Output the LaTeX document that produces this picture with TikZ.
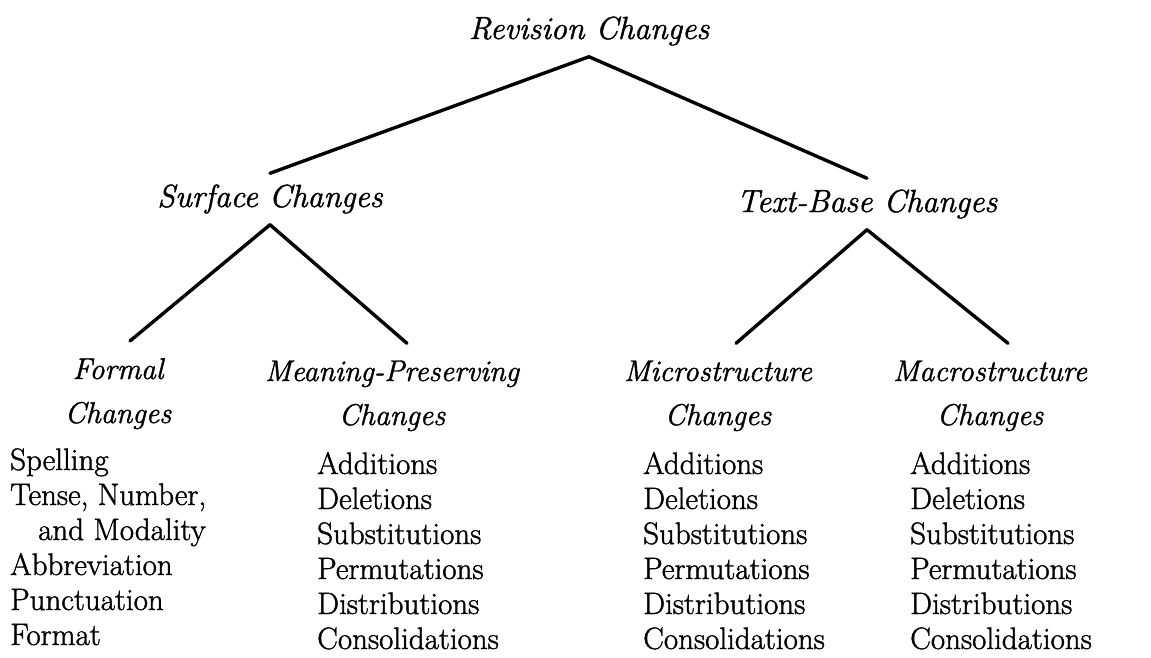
\documentclass[tikz,border=0pt]{standalone}
\usepackage{fontspec}
\usepackage{tikz}
\usetikzlibrary{shapes,fit}

\setmainfont{Latin Modern Roman}[FakeBold=1.3, ItalicFeatures={FakeBold=1.3}]
\newcommand{\headfont}{\fontsize{32}{44}\selectfont\itshape}
\newcommand{\subheadfont}{\fontsize{30}{44}\selectfont\itshape}
\newcommand{\listfont}{\fontsize{31}{35}\selectfont}

\tikzset{
  head/.style={font=\headfont, inner xsep=0pt, inner ysep=11pt, anchor=base, align=center},
  subhead/.style={font=\subheadfont, inner xsep=0pt, inner ysep=17pt, anchor=base, align=center},
  itemlist/.style={font=\listfont, inner sep=0pt, anchor=base west, align=left},
  branch/.style={line width=3.4pt, line cap=round}
}

\begin{document}
\begin{tikzpicture}[x=1pt,y=-1pt]
      \useasboundingbox (0,0) rectangle (1151,657);
      % headings (base = last line)
      \node[head] (rev) at (589,39) {Revision Changes};
      \node[head] (surf) at (270,207) {Surface Changes};
      \node[head] (tbase) at (867,212) {Text-Base Changes};
      \node[subhead] (form) at (118,423) {Formal\\Changes};
      \node[subhead] (mean) at (392,425) {Meaning-Preserving\\Changes};
      \node[subhead] (micro) at (718,425) {Microstructure\\Changes};
      \node[subhead] (macro) at (990,425) {Macrostructure\\Changes};
      % branches
      \draw[branch] (rev.south) -- (surf.north);
      \draw[branch] (rev.south) -- (tbase.north);
      \draw[branch] (surf.south) -- ([xshift=12pt]form.north);
      \draw[branch] (surf.south) -- ([xshift=15pt]mean.north);
      \draw[branch] (tbase.south) -- ([xshift=18pt]micro.north);
      \draw[branch] (tbase.south) -- ([xshift=18pt]macro.north);
      % lists
      \node[itemlist] (formlist) at (10,645) {Spelling\\Tense, Number,\\\hspace*{28pt}and Modality\\Abbreviation\\Punctuation\\Format};
      \foreach \xpos/\name in {317/mean,643/micro,910/macro} {\node[itemlist] (\name list) at (\xpos,649) {Additions\\Deletions\\Substitutions\\Permutations\\Distributions\\Consolidations}; }
   \end{tikzpicture}
\end{document}
